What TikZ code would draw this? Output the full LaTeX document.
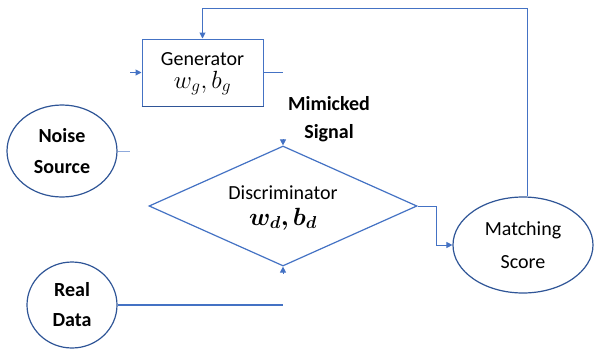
\documentclass[tikz,border=0pt]{standalone}
\usepackage{amsmath,bm}
\usepackage{fontspec}
\setmainfont{Carlito}
\usetikzlibrary{shapes.geometric,arrows.meta}
\definecolor{lineblue}{HTML}{4472C4}
\definecolor{darkblue}{HTML}{2F5597}
\definecolor{lightblue}{HTML}{8FAADC}
\begin{document}
\begin{tikzpicture}[x=1pt,y=-1pt,
  conn/.style={draw=lineblue, line width=1pt},
  tipped/.style={-{Triangle[length=6pt,width=6pt]}},
  oval/.style={ellipse, draw=darkblue, line width=1.2pt, align=center, inner sep=0pt},
  lbl/.style={anchor=base, inner sep=0pt, font=\fontsize{20}{24}\selectfont},
  mathlbl/.style={anchor=base, inner sep=0pt, font=\fontsize{23}{24}\selectfont},
  boldlbl/.style={anchor=base, inner sep=0pt, font=\bfseries\fontsize{20}{24}\selectfont},
]
\useasboundingbox (0,0) rectangle (595,349);
\fill[white] (0,0) rectangle (595,349);

% generator
\node[draw=lineblue, line width=1pt, minimum width=121pt, minimum height=67pt, inner sep=0pt] (gen) at (202.5,72.5) {};
\draw[darkblue, line width=1.8pt] (gen.south west) -- (gen.south east);
\node[lbl] (gent1) at (202.5,65) {Generator};
\node[mathlbl] (gent2) at (202.5,88) {$w_g, b_g$};

% ovals
\node[oval, minimum width=110pt, minimum height=92pt, font=\bfseries\fontsize{20}{31}\selectfont] (noise) at (62,151) {Noise\\Source};
\node[oval, minimum width=90pt, minimum height=86pt, font=\bfseries\fontsize{20}{30}\selectfont] (real) at (72,305) {Real\\Data};
\node[oval, minimum width=140pt, minimum height=96pt, font=\fontsize{20}{33}\selectfont] (match) at (523,245) {Matching\\Score};

% discriminator
\node[diamond, aspect=2.23, draw=lineblue, line width=1.2pt, minimum width=268pt, minimum height=120pt, inner sep=0pt] (disc) at (283,206) {};
\node[lbl] (disct1) at (283,199) {Discriminator};
\node[mathlbl] (disct2) at (283,225) {$\bm{w_d, b_d}$};

% mimicked signal
\node[boldlbl] (mim1) at (329,110) {Mimicked};
\node[boldlbl] (mim2) at (329,138) {Signal};

% connectors
\coordinate (ginL) at (130,72.5);
\draw[conn,tipped] (ginL) -- (gen.west);
\coordinate (gout) at (283,72.5);
\draw[conn] (gen.east) -- (gout);
\coordinate (nout) at (130,151);
\draw[conn, draw=lightblue] (noise.east) -- (nout);
\coordinate (dtop) at (283,139);
\draw[conn,tipped] (dtop) -- (disc.north);
\coordinate (dbot) at (283,274);
\draw[conn,tipped] (dbot) -- (disc.south);
\coordinate (rout) at (283,305);
\draw[conn, line width=2pt] (real.east) -- (rout);
\draw[conn,tipped] (disc.east) -- ++(19,0) |- (match.west);
\coordinate (fb) at (0,8);
\draw[conn,tipped] ([xshift=4pt]match.north) -- ([xshift=4pt]match.north |- fb) -| (gen.north);
\end{tikzpicture}
\end{document}
